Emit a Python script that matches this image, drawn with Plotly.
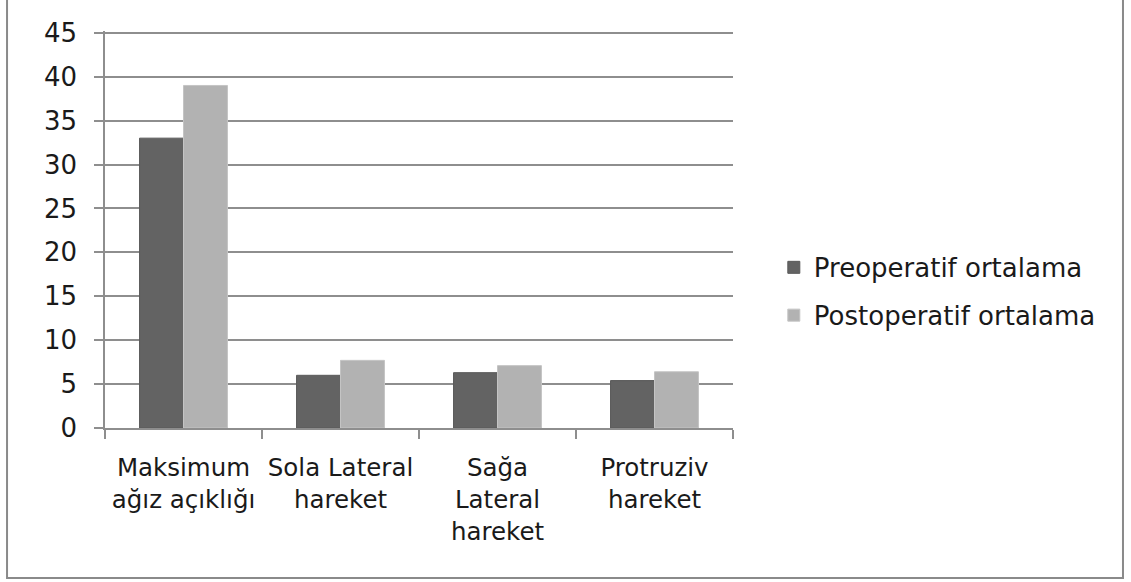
import plotly.graph_objects as go

# Category labels (wrapped as in the chart) and the two series
categories = [
    "Maksimum<br>ağız açıklığı",
    "Sola Lateral<br>hareket",
    "Sağa<br>Lateral<br>hareket",
    "Protruziv<br>hareket",
]
preoperatif = [33.0, 6.0, 6.3, 5.4]
postoperatif = [39.0, 7.7, 7.1, 6.4]
series_names = ["Preoperatif ortalama", "Postoperatif ortalama"]
y_ticks = list(range(0, 50, 5))

FONT = "DejaVu Sans"
GRID = "#8e8e8e"
TEXT = "#1a1a1a"

fig = go.Figure()
fig.add_trace(go.Bar(
    x=categories, y=preoperatif, name=series_names[0],
    marker=dict(color="#636363", line=dict(color="#5a5a5a", width=1)),
    legendgroup="a",
))
fig.add_trace(go.Bar(
    x=categories, y=postoperatif, name=series_names[1],
    marker=dict(color="#b2b2b2", line=dict(color="#c4c4c4", width=1)),
    legendgroup="b",
))

fig.update_layout(
    width=1131, height=582,
    margin=dict(l=105, r=398, t=31, b=154),
    paper_bgcolor="white", plot_bgcolor="white",
    barmode="group", bargap=0.44, bargroupgap=0,
    font=dict(family=FONT, size=25, color=TEXT),
    showlegend=True,
    legend=dict(
        x=1.065, y=0.344, xanchor="left", yanchor="middle",
        font=dict(family=FONT, size=26, color=TEXT),
        tracegroupgap=11, bgcolor="rgba(0,0,0,0)",
    ),
    xaxis=dict(
        type="category", tickson="boundaries", tickangle=0, automargin=False,
        ticks="outside", ticklen=9, tickcolor=GRID, tickwidth=1.5,
        ticklabelstandoff=17,
        showline=True, linecolor=GRID, linewidth=1.5,
        showgrid=False, tickfont=dict(family=FONT, size=24.5, color=TEXT),
    ),
    yaxis=dict(
        range=[0, 45.2], tickvals=y_ticks, automargin=False,
        ticks="outside", ticklen=9, tickcolor=GRID, tickwidth=1.5,
        ticklabelstandoff=12,
        showline=True, linecolor=GRID, linewidth=1.5,
        showgrid=True, gridcolor=GRID, gridwidth=1.5,
        zeroline=False,
        tickfont=dict(family=FONT, size=26, color=TEXT),
    ),
    shapes=[dict(
        type="rect", xref="paper", yref="paper",
        x0=-0.156, x1=1.621, y0=-0.378, y1=1.0805,
        line=dict(color="#8a8a8a", width=2), fillcolor="rgba(0,0,0,0)",
        layer="below",
    )],
)

fig.write_html("out.html")
